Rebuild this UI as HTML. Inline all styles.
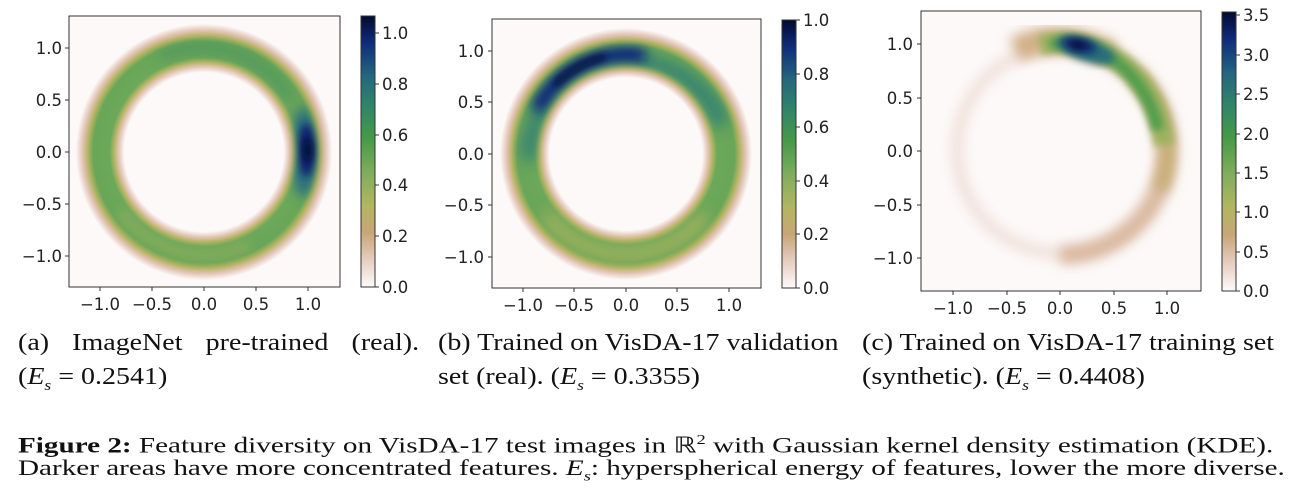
<!DOCTYPE html>
<html><head><meta charset="utf-8"><style>
body{margin:0;background:#fff;width:1300px;height:495px;overflow:hidden;position:relative}
.c{position:absolute;font-family:"Liberation Serif",serif;font-size:24px;color:#111;line-height:34px;transform-origin:0 0;white-space:nowrap}
.f{position:absolute;font-family:"Liberation Serif",serif;font-size:22px;color:#111;line-height:27px;left:18px;white-space:nowrap;transform-origin:0 0}
</style></head><body>
<svg width="1300" height="320" style="position:absolute;left:0;top:0" font-family="DejaVu Sans, sans-serif" font-size="16.5" fill="#222">
<defs>
<linearGradient id="cb" x1="0" y1="1" x2="0" y2="0">
<stop offset="0" stop-color="#fdfafa"/><stop offset="0.1" stop-color="#e6cdc0"/><stop offset="0.2" stop-color="#c8a677"/><stop offset="0.3" stop-color="#b2b660"/><stop offset="0.42" stop-color="#80ad5c"/><stop offset="0.55" stop-color="#459a48"/><stop offset="0.67" stop-color="#2f846a"/><stop offset="0.78" stop-color="#24667f"/><stop offset="0.9" stop-color="#0f2c7c"/><stop offset="1" stop-color="#020a30"/>
</linearGradient>
<radialGradient id="r1" gradientUnits="userSpaceOnUse" cx="204" cy="152" r="135">
<stop offset="0.59" stop-color="#fcf9f8"/><stop offset="0.63" stop-color="#e5c7b8"/><stop offset="0.665" stop-color="#b7b566"/><stop offset="0.7" stop-color="#6ca85a"/><stop offset="0.82" stop-color="#68a658"/><stop offset="0.86" stop-color="#b4b462"/><stop offset="0.9" stop-color="#e2c3b4"/><stop offset="0.95" stop-color="#fcf9f8"/>
</radialGradient>
<radialGradient id="r2" gradientUnits="userSpaceOnUse" cx="626" cy="154" r="134">
<stop offset="0.57" stop-color="#fcf9f8"/><stop offset="0.61" stop-color="#e5c7b8"/><stop offset="0.645" stop-color="#b7b566"/><stop offset="0.68" stop-color="#6ca85a"/><stop offset="0.81" stop-color="#68a658"/><stop offset="0.85" stop-color="#b4b462"/><stop offset="0.89" stop-color="#e2c3b4"/><stop offset="0.94" stop-color="#fcf9f8"/>
</radialGradient>
<filter id="b4" x="-100%" y="-100%" width="300%" height="300%"><feGaussianBlur stdDeviation="4"/></filter>
<filter id="b6" x="-100%" y="-100%" width="300%" height="300%"><feGaussianBlur stdDeviation="6"/></filter>
<filter id="b8" x="-100%" y="-100%" width="300%" height="300%"><feGaussianBlur stdDeviation="8"/></filter>
<mask id="m1" maskUnits="userSpaceOnUse" x="0" y="0" width="1300" height="320"><circle cx="204" cy="152" r="103" fill="none" stroke="#fff" stroke-width="22" filter="url(#b4)"/></mask>
<mask id="m2" maskUnits="userSpaceOnUse" x="0" y="0" width="1300" height="320"><circle cx="626" cy="154" r="100" fill="none" stroke="#fff" stroke-width="22" filter="url(#b4)"/></mask>
<clipPath id="k1"><rect x="69" y="16" width="271" height="271"/></clipPath>
<clipPath id="k2"><rect x="492" y="19" width="269" height="269"/></clipPath>
<clipPath id="k3"><rect x="921" y="11" width="280" height="280"/></clipPath>
</defs>
<!-- Panel 1 -->
<rect x="69" y="16" width="271" height="271" fill="#fcf9f8"/>
<g clip-path="url(#k1)">
<circle cx="204" cy="152" r="135" fill="url(#r1)"/>
<g mask="url(#m1)">
<path d="M 160 56 A 103 103 0 0 1 290 100" stroke="#3c8a64" stroke-width="14" fill="none" opacity="0.45" filter="url(#b6)"/>
<path d="M 120 210 A 103 103 0 0 0 250 245" stroke="#a6b460" stroke-width="14" fill="none" opacity="0.4" filter="url(#b6)"/>
<ellipse cx="305" cy="152" rx="16" ry="45" fill="#2a6e80" filter="url(#b6)"/>
<ellipse cx="307" cy="150" rx="10" ry="26" fill="#0a2470" filter="url(#b4)"/>
<ellipse cx="308" cy="150" rx="5" ry="11" fill="#020a30" filter="url(#b4)"/>
</g>
</g>
<rect x="69" y="16" width="271" height="271" fill="none" stroke="#333" stroke-width="1"/>
<g stroke="#333"><line x1="100" y1="287" x2="100" y2="291"/><line x1="152" y1="287" x2="152" y2="291"/><line x1="204" y1="287" x2="204" y2="291"/><line x1="256" y1="287" x2="256" y2="291"/><line x1="308" y1="287" x2="308" y2="291"/>
<line x1="65" y1="48" x2="69" y2="48"/><line x1="65" y1="100" x2="69" y2="100"/><line x1="65" y1="152" x2="69" y2="152"/><line x1="65" y1="204" x2="69" y2="204"/><line x1="65" y1="256" x2="69" y2="256"/></g>
<g text-anchor="middle"><text x="100" y="310">−1.0</text><text x="152" y="310">−0.5</text><text x="204" y="310">0.0</text><text x="256" y="310">0.5</text><text x="308" y="310">1.0</text></g>
<g text-anchor="end"><text x="62" y="54">1.0</text><text x="62" y="106">0.5</text><text x="62" y="158">0.0</text><text x="62" y="210">−0.5</text><text x="62" y="262">−1.0</text></g>
<rect x="361" y="16" width="14" height="271" fill="url(#cb)" stroke="#333"/>
<g stroke="#333"><line x1="375" y1="33" x2="379" y2="33"/><line x1="375" y1="84" x2="379" y2="84"/><line x1="375" y1="135" x2="379" y2="135"/><line x1="375" y1="185" x2="379" y2="185"/><line x1="375" y1="236" x2="379" y2="236"/><line x1="375" y1="287" x2="379" y2="287"/></g>
<g><text x="382" y="39">1.0</text><text x="382" y="90">0.8</text><text x="382" y="141">0.6</text><text x="382" y="191">0.4</text><text x="382" y="242">0.2</text><text x="382" y="293">0.0</text></g>
<!-- Panel 2 -->
<rect x="492" y="19" width="269" height="269" fill="#fcf9f8"/>
<g clip-path="url(#k2)">
<circle cx="626" cy="154" r="134" fill="url(#r2)"/>
<g mask="url(#m2)">
<path d="M 545 215 A 100 100 0 0 0 705 215" stroke="#acb45e" stroke-width="20" fill="none" opacity="0.7" filter="url(#b8)"/>
<path d="M 530 160 A 100 100 0 0 1 722 125" stroke="#2a7a78" stroke-width="22" fill="none" opacity="0.8" filter="url(#b8)"/>
<path d="M 537 110 A 100 100 0 0 1 645 56" stroke="#0e2c7a" stroke-width="18" fill="none" filter="url(#b6)"/>
<path d="M 555 85 A 100 100 0 0 1 605 57" stroke="#020a30" stroke-width="6" fill="none" filter="url(#b4)"/>
</g>
</g>
<rect x="492" y="19" width="269" height="269" fill="none" stroke="#333"/>
<g stroke="#333"><line x1="523" y1="288" x2="523" y2="292"/><line x1="574" y1="288" x2="574" y2="292"/><line x1="626" y1="288" x2="626" y2="292"/><line x1="677" y1="288" x2="677" y2="292"/><line x1="729" y1="288" x2="729" y2="292"/>
<line x1="488" y1="51" x2="492" y2="51"/><line x1="488" y1="102" x2="492" y2="102"/><line x1="488" y1="154" x2="492" y2="154"/><line x1="488" y1="205" x2="492" y2="205"/><line x1="488" y1="257" x2="492" y2="257"/></g>
<g text-anchor="middle"><text x="523" y="311">−1.0</text><text x="574" y="311">−0.5</text><text x="626" y="311">0.0</text><text x="677" y="311">0.5</text><text x="729" y="311">1.0</text></g>
<g text-anchor="end"><text x="484" y="57">1.0</text><text x="484" y="108">0.5</text><text x="484" y="160">0.0</text><text x="484" y="211">−0.5</text><text x="484" y="263">−1.0</text></g>
<rect x="782" y="20" width="14" height="268" fill="url(#cb)" stroke="#333"/>
<g stroke="#333"><line x1="796" y1="20" x2="800" y2="20"/><line x1="796" y1="74" x2="800" y2="74"/><line x1="796" y1="127" x2="800" y2="127"/><line x1="796" y1="181" x2="800" y2="181"/><line x1="796" y1="234" x2="800" y2="234"/><line x1="796" y1="288" x2="800" y2="288"/></g>
<g><text x="803" y="26">1.0</text><text x="803" y="80">0.8</text><text x="803" y="133">0.6</text><text x="803" y="187">0.4</text><text x="803" y="240">0.2</text><text x="803" y="294">0.0</text></g>
<!-- Panel 3 -->
<rect x="921" y="11" width="280" height="280" fill="#fcf9f8"/>
<g clip-path="url(#k3)">
<circle cx="1060" cy="150" r="103" fill="none" stroke="#f1e0da" stroke-width="12" filter="url(#b6)"/>
<path d="M 1100 52 A 105 105 0 0 1 1060 255" stroke="#d9b89e" stroke-width="18" fill="none" filter="url(#b6)"/>
<path d="M 1135 75 A 105 105 0 0 1 1160 190" stroke="#c4ad72" stroke-width="14" fill="none" filter="url(#b6)"/>
<path d="M 1015 50 Q 1060 28 1112 55" stroke="#d2b088" stroke-width="26" fill="none" filter="url(#b6)"/>
<path d="M 1040 45 Q 1090 35 1130 70 Q 1160 100 1164 145" stroke="#9cb25e" stroke-width="20" fill="none" filter="url(#b4)"/>
<path d="M 1050 44 Q 1095 40 1128 72 Q 1152 98 1158 130" stroke="#4f9c4e" stroke-width="12" fill="none" filter="url(#b4)"/>
<ellipse cx="1086" cy="50" rx="30" ry="11" transform="rotate(18 1086 50)" fill="#266c7e" filter="url(#b4)"/>
<ellipse cx="1079" cy="45" rx="17" ry="7" transform="rotate(12 1079 45)" fill="#0a2268" filter="url(#b4)"/>
<ellipse cx="1078" cy="45" rx="6" ry="3" fill="#020a30" filter="url(#b4)"/>
</g>
<rect x="921" y="11" width="280" height="280" fill="none" stroke="#333"/>
<g stroke="#333"><line x1="953" y1="291" x2="953" y2="295"/><line x1="1007" y1="291" x2="1007" y2="295"/><line x1="1060" y1="291" x2="1060" y2="295"/><line x1="1114" y1="291" x2="1114" y2="295"/><line x1="1167" y1="291" x2="1167" y2="295"/>
<line x1="917" y1="44" x2="921" y2="44"/><line x1="917" y1="98" x2="921" y2="98"/><line x1="917" y1="151" x2="921" y2="151"/><line x1="917" y1="205" x2="921" y2="205"/><line x1="917" y1="258" x2="921" y2="258"/></g>
<g text-anchor="middle"><text x="953" y="314">−1.0</text><text x="1007" y="314">−0.5</text><text x="1060" y="314">0.0</text><text x="1114" y="314">0.5</text><text x="1167" y="314">1.0</text></g>
<g text-anchor="end"><text x="913" y="50">1.0</text><text x="913" y="104">0.5</text><text x="913" y="157">0.0</text><text x="913" y="211">−0.5</text><text x="913" y="264">−1.0</text></g>
<rect x="1222" y="12" width="14" height="279" fill="url(#cb)" stroke="#333"/>
<g stroke="#333"><line x1="1236" y1="15" x2="1240" y2="15"/><line x1="1236" y1="55" x2="1240" y2="55"/><line x1="1236" y1="94" x2="1240" y2="94"/><line x1="1236" y1="134" x2="1240" y2="134"/><line x1="1236" y1="173" x2="1240" y2="173"/><line x1="1236" y1="212" x2="1240" y2="212"/><line x1="1236" y1="252" x2="1240" y2="252"/><line x1="1236" y1="291" x2="1240" y2="291"/></g>
<g><text x="1243" y="21">3.5</text><text x="1243" y="61">3.0</text><text x="1243" y="100">2.5</text><text x="1243" y="140">2.0</text><text x="1243" y="179">1.5</text><text x="1243" y="218">1.0</text><text x="1243" y="258">0.5</text><text x="1243" y="297">0.0</text></g>
</svg>
<div class="c" style="left:18px;top:326px;width:344px;transform:scaleX(1.166)"><div style="display:flex;justify-content:space-between"><span>(a)</span><span>ImageNet</span><span>pre-trained</span><span>(real).</span></div>(<i>E<sub style="font-size:15px">s</sub></i> = 0.2541)</div>
<div class="c" style="left:438px;top:326px;transform:scaleX(1.166)">(b) Trained on VisDA-17 validation<br>set (real). (<i>E<sub style="font-size:15px">s</sub></i> = 0.3355)</div>
<div class="c" style="left:862px;top:326px;transform:scaleX(1.166)">(c) Trained on VisDA-17 training set<br>(synthetic). (<i>E<sub style="font-size:15px">s</sub></i> = 0.4408)</div>
<div class="f" style="top:427px;transform:scaleX(1.325)"><b>Figure 2:</b> Feature diversity on VisDA-17 test images in ℝ<sup style="font-size:14px">2</sup> with Gaussian kernel density estimation (KDE).</div>
<div class="f" style="top:454px;transform:scaleX(1.325)">Darker areas have more concentrated features. <i>E<sub style="font-size:14px">s</sub></i>: hyperspherical energy of features, lower the more diverse.</div>
</body></html>
